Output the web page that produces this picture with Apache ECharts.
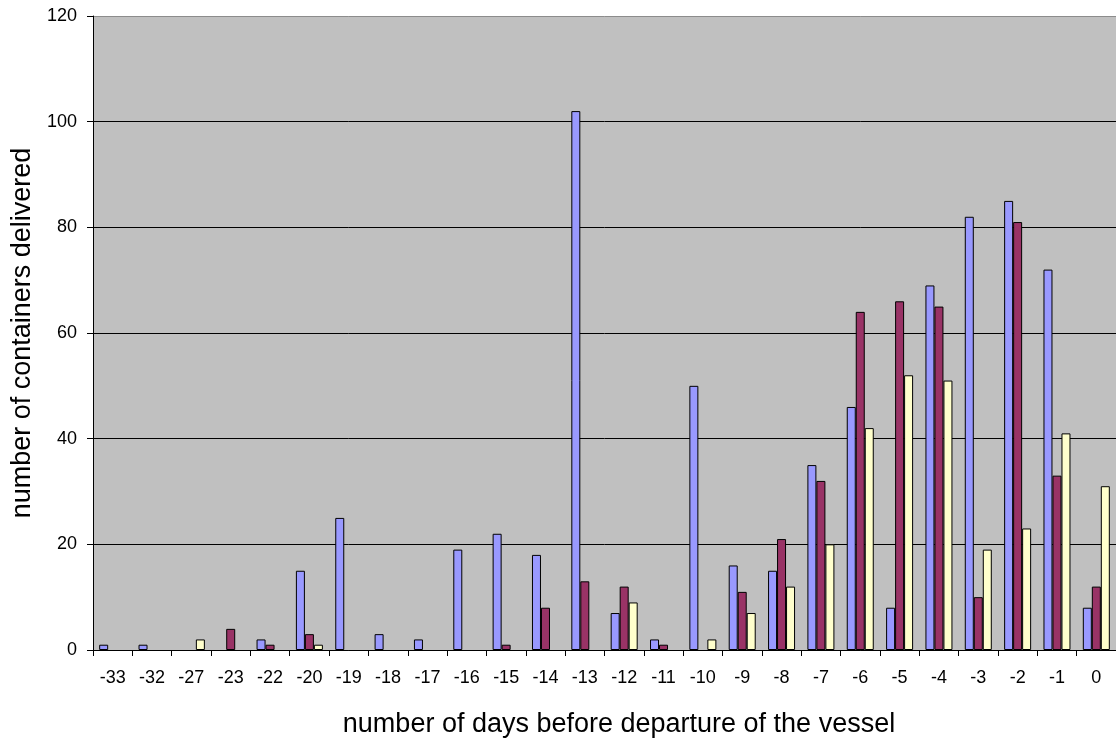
<!DOCTYPE html>
<html>
<head>
<meta charset="utf-8">
<script src="https://cdn.jsdelivr.net/npm/echarts@6/dist/echarts.min.js"></script>
<style>
  html, body { margin: 0; padding: 0; background: #fff; }
  #chart { width: 1116px; height: 741px; }
</style>
</head>
<body>
<div id="chart"></div>
<script>
// Days before the vessel leaves (category axis)
const days = ['-33', '-32', '-27', '-23', '-22', '-20', '-19', '-18', '-17', '-16', '-15', '-14', '-13',
              '-12', '-11', '-10', '-9', '-8', '-7', '-6', '-5', '-4', '-3', '-2', '-1', '0'];

// Containers delivered per day, one array per vessel
const vesselA = [1, 1, 0, 0, 2, 15, 25, 3, 2, 19, 22, 18, 102, 7, 2, 50, 16, 15, 35, 46, 8, 69, 82, 85, 72, 8];
const vesselB = [0, 0, 0, 4, 1, 3, 0, 0, 0, 0, 1, 8, 13, 12, 1, 0, 11, 21, 32, 64, 66, 65, 10, 81, 33, 12];
const vesselC = [0, 0, 2, 0, 0, 1, 0, 0, 0, 0, 0, 0, 0, 9, 0, 2, 7, 12, 20, 42, 52, 51, 19, 23, 41, 31];

const yTicks = { min: 0, max: 120, interval: 20 };

const chart = echarts.init(document.getElementById('chart'), null, { renderer: 'canvas' });

// Days with no deliveries get no bar at all
function barSeries(data, color) {
  return {
    type: 'bar',
    data: data.map(v => (v === 0 ? '-' : v)),
    barWidth: 9,
    barGap: '0%',
    itemStyle: { color: color, borderColor: '#000', borderWidth: 1 },
    emphasis: { disabled: true },
    animation: false
  };
}

chart.setOption({
  animation: false,
  textStyle: { fontFamily: 'Liberation Sans, Arial, sans-serif' },
  grid: {
    left: 93, right: 0, top: 16, bottom: 91,
    outerBoundsMode: 'none',
    containLabel: false,
    show: true, backgroundColor: '#C0C0C0', borderWidth: 0
  },
  xAxis: {
    type: 'category',
    data: days,
    boundaryGap: true,
    axisLine: { lineStyle: { color: '#000', width: 1 } },
    axisTick: { show: true, length: 6, alignWithLabel: false, lineStyle: { color: '#000' } },
    axisLabel: { color: '#000', fontSize: 18, margin: 19, interval: 0 },
    name: 'number of days before departure of the vessel',
    nameLocation: 'middle',
    nameGap: 61,
    nameTextStyle: { color: '#000', fontSize: 27, padding: [0, 0, 0, 29] }
  },
  yAxis: {
    type: 'value',
    min: yTicks.min, max: yTicks.max, interval: yTicks.interval,
    axisLine: { show: true, lineStyle: { color: '#000', width: 1 } },
    axisTick: { show: true, length: 6, lineStyle: { color: '#000' } },
    axisLabel: { color: '#000', fontSize: 18, margin: 16 },
    splitLine: {
      show: true,
      lineStyle: { color: ['#000', '#000', '#000', '#000', '#000', '#000', '#8c8c8c'], width: 1 }
    },
    name: 'number of containers delivered',
    nameLocation: 'middle',
    nameGap: 49,
    nameTextStyle: { color: '#000', fontSize: 27 }
  },
  series: [
    barSeries(vesselA, '#9999FF'),
    barSeries(vesselB, '#993366'),
    barSeries(vesselC, '#FFFFCC')
  ]
});
</script>
</body>
</html>
